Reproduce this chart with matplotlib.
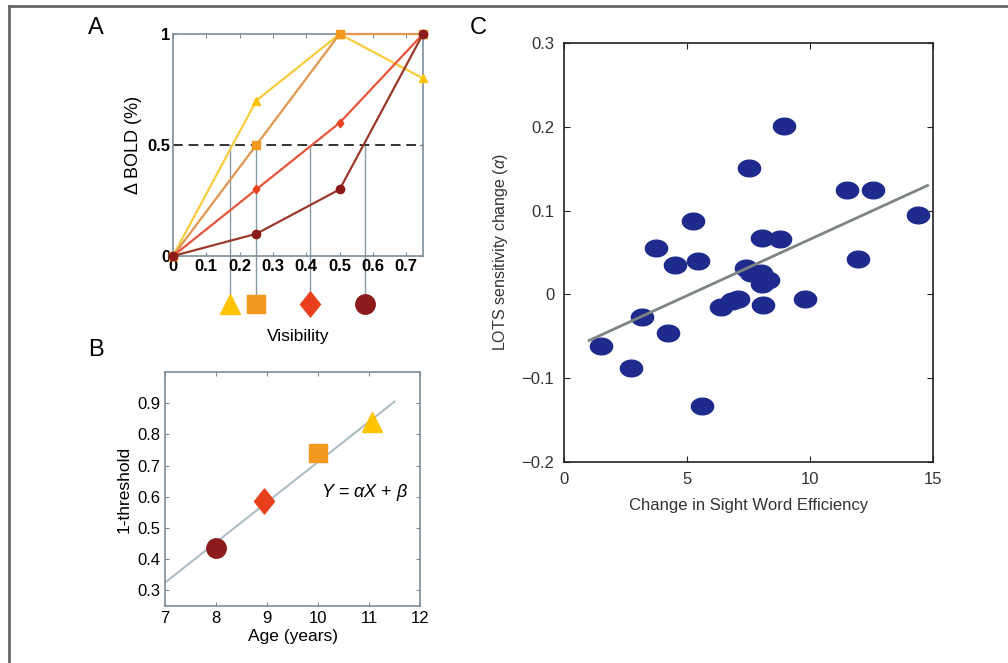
import numpy as np
import matplotlib
matplotlib.use('Agg')
import matplotlib.pyplot as plt
from matplotlib.path import Path
from matplotlib.lines import Line2D

plt.rcParams['font.family'] = ['Liberation Sans', 'DejaVu Sans']
plt.rcParams['mathtext.fontset'] = 'custom'
plt.rcParams['mathtext.it'] = 'Liberation Sans:italic'
plt.rcParams['mathtext.rm'] = 'Liberation Sans'

# panel A: BOLD response vs visibility, one curve per age group
visibility = [0, 0.25, 0.5, 0.75]
bold_yellow = [0, 0.7, 1.0, 0.8]
bold_orange = [0, 0.5, 1.0, 1.0]
bold_red = [0, 0.3, 0.6, 1.0]
bold_darkred = [0, 0.1, 0.3, 1.0]
thresholds = [0.17, 0.25, 0.41, 0.575]

# panel B: 1-threshold vs age
ages = [8, 8.95, 10, 11.05]
one_minus_thr = [0.435, 0.585, 0.74, 0.84]
fit_b_x = [7, 11.5]
fit_b_y = [0.325, 0.905]

# panel C: sensitivity change vs sight word efficiency change
swe_change = [1.49, 2.74, 3.16, 3.76, 4.21, 4.53, 5.25, 5.43, 5.62, 6.38, 6.81,
              7.06, 7.40, 7.53, 7.59, 8.01, 8.06, 8.06, 8.28, 8.10, 8.78, 8.96,
              9.80, 11.50, 11.95, 12.58, 14.37]
lots_change = [-0.061, -0.088, -0.027, 0.055, -0.046, 0.035, 0.0875, 0.040, -0.133,
               -0.015, -0.008, -0.006, 0.031, 0.151, 0.025, 0.026, 0.067, 0.013,
               0.017, -0.013, 0.066, 0.201, -0.006, 0.125, 0.042, 0.124, 0.095]
fit_c_x = [1.02, 14.78]
fit_c_y = [-0.055, 0.13]

line_cols = ['#f8cc3c', '#e39650', '#e8553a', '#9b3a2a']
mark_cols = ['#ffc400', '#f39a1e', '#e8401c', '#8e1b1b']

# slightly tall diamond like the original
diamond = Path([(0, 1), (0.8, 0), (0, -1), (-0.8, 0), (0, 1)], closed=True)
shapes = ['^', 's', diamond, 'o']
big_ms = [14, 13, 18, 14]

fig = plt.figure(figsize=(10.08, 6.63), dpi=100)

# border on top and left
fig.add_artist(Line2D([9 / 1008, 1], [1 - 6 / 663, 1 - 6 / 663], transform=fig.transFigure, color='#666666', lw=2))
fig.add_artist(Line2D([9 / 1008, 9 / 1008], [0, 1 - 6 / 663], transform=fig.transFigure, color='#666666', lw=2))


def style_axes(ax, col, size, bold=False):
    for s in ax.spines.values():
        s.set_color(col)
        s.set_linewidth(1.2)
    ax.tick_params(direction='in', top=True, right=True, length=3, color=col, labelsize=size)
    if bold:
        for lab in ax.get_xticklabels() + ax.get_yticklabels():
            lab.set_fontweight('bold')


# ---- A ----
axA = fig.add_axes([173 / 1008, 1 - 256 / 663, 250 / 1008, 222 / 663])
series = [bold_yellow, bold_orange, bold_red, bold_darkred]
for vals, lc, mc, m in zip(series, line_cols, mark_cols, shapes):
    axA.plot(visibility, vals, color=lc, lw=1.6, marker=m, ms=6, mfc=mc, mec=mc, clip_on=False, zorder=3)
axA.axhline(0.5, color='#333333', lw=1.4, ls=(0, (5, 3)), zorder=2)
for t, mc, m, s in zip(thresholds, mark_cols, shapes, big_ms):
    axA.plot([t, t], [0.5, -0.17], color='#8a9aa5', lw=1, clip_on=False, zorder=1)
    axA.plot(t, -0.215, marker=m, ms=s, color=mc, clip_on=False)
axA.set_xlim(0, 0.75)
axA.set_ylim(0, 1)
axA.set_xticks([0, 0.1, 0.2, 0.3, 0.4, 0.5, 0.6, 0.7])
axA.set_xticklabels(['0', '0.1', '0.2', '0.3', '0.4', '0.5', '0.6', '0.7'])
axA.set_yticks([0, 0.5, 1])
axA.set_yticklabels(['0', '0.5', '1'])
style_axes(axA, '#7d8d98', 12, bold=True)
axA.tick_params(pad=2)
axA.set_ylabel('Δ BOLD (%)', fontsize=13)
axA.text(0.5, -0.33, 'Visibility', transform=axA.transAxes, ha='center', va='top', fontsize=12.5)

# ---- B ----
axB = fig.add_axes([165 / 1008, 1 - 606 / 663, 255 / 1008, 234 / 663])
axB.plot(fit_b_x, fit_b_y, color='#a9bac2', lw=1.4, zorder=1)
for a, v, mc, m, s in zip(ages, one_minus_thr, mark_cols[::-1], shapes[::-1], big_ms[::-1]):
    axB.plot(a, v, marker=m, ms=s, color=mc, zorder=3)
axB.text(10.05, 0.6, r'$Y$ = $\alpha X$ + $\beta$', fontsize=13)
axB.set_xlim(7, 12)
axB.set_ylim(0.25, 1.0)
axB.set_xticks([7, 8, 9, 10, 11, 12])
axB.set_yticks([0.3, 0.4, 0.5, 0.6, 0.7, 0.8, 0.9])
axB.set_yticklabels(['0.3', '0.4', '0.5', '0.6', '0.7', '0.8', '0.9'])
style_axes(axB, '#7d8d98', 12)
axB.set_xlabel('Age (years)', fontsize=12.5, labelpad=2)
axB.set_ylabel('1-threshold', fontsize=12.5)

# ---- C ----
axC = fig.add_axes([564 / 1008, 1 - 462 / 663, 369 / 1008, 419 / 663])
theta = np.linspace(0, 2 * np.pi, 60)
ellipse = Path(np.column_stack([np.cos(theta), 0.75 * np.sin(theta)]), closed=True)
axC.plot(fit_c_x, fit_c_y, color='#7f8585', lw=2, zorder=3)
axC.plot(swe_change, lots_change, ls='none', marker=ellipse, ms=16, color='#1f2b8c', zorder=2)
axC.set_xlim(0, 15)
axC.set_ylim(-0.2, 0.3)
axC.set_xticks([0, 5, 10, 15])
axC.set_yticks([-0.2, -0.1, 0, 0.1, 0.2, 0.3])
axC.set_yticklabels(['\u22120.2', '\u22120.1', '0', '0.1', '0.2', '0.3'])
style_axes(axC, '#222222', 12)
axC.tick_params(length=4, pad=7, labelcolor='#333333')
axC.set_xlabel('Change in Sight Word Efficiency', fontsize=12, labelpad=8, color='#333333')
axC.set_ylabel(r'LOTS sensitivity change ($\alpha$)', fontsize=11.5, labelpad=8, color='#333333')

# panel letters
fig.text(88 / 1008, 1 - 28 / 663, 'A', fontsize=17, ha='left', va='center')
fig.text(88 / 1008, 1 - 350 / 663, 'B', fontsize=17, ha='left', va='center')
fig.text(470 / 1008, 1 - 28 / 663, 'C', fontsize=17, ha='left', va='center')

fig.savefig('out.png', dpi=100)
